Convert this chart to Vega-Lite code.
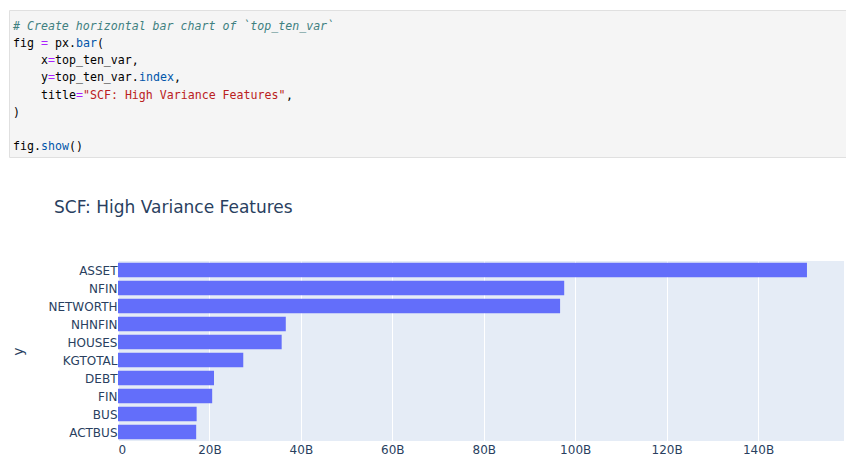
{
  "$schema": "https://vega.github.io/schema/vega-lite/v6.json",
  "padding": {"left": 8, "top": 9, "right": 0, "bottom": 0},
  "background": "#ffffff",
  "spacing": 41,
  "datasets": {
    "code": [
      {"line": 0, "col": 0, "text": "# Create horizontal bar chart of `top_ten_var`", "kind": "comment"},
      {"line": 1, "col": 0, "text": "fig", "kind": "plain"},
      {"line": 1, "col": 4, "text": "=", "kind": "operator"},
      {"line": 1, "col": 6, "text": "px.", "kind": "plain"},
      {"line": 1, "col": 9, "text": "bar", "kind": "property"},
      {"line": 1, "col": 12, "text": "(", "kind": "plain"},
      {"line": 2, "col": 4, "text": "x", "kind": "plain"},
      {"line": 2, "col": 5, "text": "=", "kind": "operator"},
      {"line": 2, "col": 6, "text": "top_ten_var,", "kind": "plain"},
      {"line": 3, "col": 4, "text": "y", "kind": "plain"},
      {"line": 3, "col": 5, "text": "=", "kind": "operator"},
      {"line": 3, "col": 6, "text": "top_ten_var.", "kind": "plain"},
      {"line": 3, "col": 18, "text": "index", "kind": "property"},
      {"line": 3, "col": 23, "text": ",", "kind": "plain"},
      {"line": 4, "col": 4, "text": "title", "kind": "plain"},
      {"line": 4, "col": 9, "text": "=", "kind": "operator"},
      {"line": 4, "col": 10, "text": "\"SCF: High Variance Features\"", "kind": "string"},
      {"line": 4, "col": 39, "text": ",", "kind": "plain"},
      {"line": 5, "col": 0, "text": ")", "kind": "plain"},
      {"line": 7, "col": 0, "text": "fig.", "kind": "plain"},
      {"line": 7, "col": 4, "text": "show", "kind": "property"},
      {"line": 7, "col": 8, "text": "()", "kind": "plain"}
    ],
    "variance": [
      {"feature": "ASSET", "variance": 150700000000},
      {"feature": "NFIN", "variance": 97600000000},
      {"feature": "NETWORTH", "variance": 96700000000},
      {"feature": "NHNFIN", "variance": 36700000000},
      {"feature": "HOUSES", "variance": 35800000000},
      {"feature": "KGTOTAL", "variance": 27400000000},
      {"feature": "DEBT", "variance": 21000000000},
      {"feature": "FIN", "variance": 20600000000},
      {"feature": "BUS", "variance": 17200000000},
      {"feature": "ACTBUS", "variance": 17100000000}
    ]
  },
  "vconcat": [
    {
      "width": 838,
      "height": 147,
      "view": {"fill": "#f5f5f5", "stroke": "#e0e0e0", "strokeWidth": 1},
      "data": {"name": "code"},
      "encoding": {
        "x": {"field": "col", "type": "quantitative", "axis": null,
              "scale": {"domain": [-0.5714, 119.143], "nice": false, "zero": false}},
        "y": {"field": "line", "type": "quantitative", "axis": null,
              "scale": {"domain": [-0.98, 7.566], "nice": false, "zero": false, "reverse": true}},
        "text": {"field": "text", "type": "nominal"},
        "color": {"field": "kind", "type": "nominal", "legend": null,
                  "scale": {"domain": ["plain", "comment", "operator", "property", "string"],
                            "range": ["#000000", "#408080", "#aa22ff", "#0055aa", "#ba2121"]}}
      },
      "layer": [
        {
          "transform": [{"filter": "datum.kind === 'comment'"}],
          "mark": {"type": "text", "align": "left", "baseline": "middle", "font": "DejaVu Sans Mono", "fontSize": 11.6, "fontStyle": "italic"}
        },
        {
          "transform": [{"filter": "datum.kind !== 'comment'"}],
          "mark": {"type": "text", "align": "left", "baseline": "middle", "font": "DejaVu Sans Mono", "fontSize": 11.6}
        }
      ]
    },
    {
      "title": {
        "text": "SCF: High Variance Features",
        "anchor": "start",
        "dx": 45,
        "offset": 44,
        "font": "DejaVu Sans",
        "fontSize": 17,
        "fontWeight": "normal",
        "color": "#2a3f5f"
      },
      "spacing": 0,
      "hconcat": [
        {
          "width": 109,
          "height": 180,
          "data": {"name": "variance"},
          "view": {"fill": null, "stroke": null},
          "mark": {"type": "point", "opacity": 0},
          "encoding": {
            "y": {
              "field": "feature",
              "type": "nominal",
              "sort": null,
              "scale": {"paddingInner": 0.2, "paddingOuter": 0.1},
              "axis": {
                "orient": "right",
                "title": "y",
                "titleFont": "DejaVu Sans",
                "titleFontSize": 14,
                "titleFontWeight": "normal",
                "titleColor": "#2a3f5f",
                "titleX": -100,
                "titleY": 90,
                "titleAlign": "center",
                "titleBaseline": "middle",
                "titleAngle": 270,
                "labelFont": "DejaVu Sans",
                "labelFontSize": 12,
                "labelColor": "#2a3f5f",
                "labelAlign": "right",
                "labelPadding": -1,
                "ticks": false,
                "domain": false,
                "grid": false
              }
            }
          }
        },
        {
          "width": 726,
          "height": 180,
          "data": {"name": "variance"},
          "view": {"fill": "#e5ecf6", "stroke": null},
          "mark": {"type": "bar", "color": "#636efa"},
          "encoding": {
            "y": {
              "field": "feature",
              "type": "nominal",
              "sort": null,
              "scale": {"paddingInner": 0.2, "paddingOuter": 0.1},
              "axis": null
            },
            "x": {
              "field": "variance",
              "type": "quantitative",
              "scale": {"domain": [0, 158800000000], "nice": false},
              "axis": {
                "title": null,
                "values": [0, 20000000000, 40000000000, 60000000000, 80000000000, 100000000000, 120000000000, 140000000000],
                "labelExpr": "datum.value === 0 ? '0' : format(datum.value / 1e9, 'd') + 'B'",
                "labelFont": "DejaVu Sans",
                "labelFontSize": 12,
                "labelColor": "#2a3f5f",
                "labelPadding": 3,
                "ticks": false,
                "domain": false,
                "grid": true,
                "gridColor": "#ffffff",
                "gridWidth": 1
              }
            }
          }
        }
      ]
    }
  ]
}
